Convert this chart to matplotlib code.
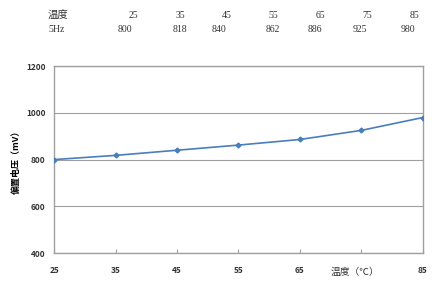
import matplotlib
matplotlib.use("Agg")
import matplotlib.pyplot as plt

plt.rcParams['font.family'] = ['Noto Sans CJK SC', 'DejaVu Sans']

# data
temps = [25, 35, 45, 55, 65, 75, 85]
bias_mv = [800, 818, 840, 862, 886, 925, 980]
table_row_label_1 = "温度"
table_row_label_2 = "5Hz"
y_ticks = [400, 600, 800, 1000, 1200]
x_tick_labels = ["25", "35", "45", "55", "65", "", "85"]

fig = plt.figure(figsize=(4.36, 2.86), dpi=100)
ax = fig.add_axes([0.124, 0.115, 0.846, 0.654])

ax.plot(temps, bias_mv, color="#4a7ebb", lw=1.2, marker="D", ms=2.5, zorder=3)

ax.set_xlim(25, 85)
ax.set_ylim(400, 1200)
ax.set_yticks(y_ticks)
ax.set_xticks(temps)
ax.set_xticklabels(x_tick_labels)
ax.grid(axis="y", color="#a0a0a0", lw=0.8)
for s in ax.spines.values():
    s.set_color("#a0a0a0")
    s.set_linewidth(1.0)
ax.tick_params(axis="y", length=0, labelsize=6, pad=6, colors="#333333")
ax.tick_params(axis="x", length=3, direction="in", color="#a0a0a0", labelsize=6, pad=9, colors="#333333")
for lab in ax.get_xticklabels() + ax.get_yticklabels():
    lab.set_fontweight("bold")

ax.set_ylabel("偏置电压（mV）", fontsize=6.5, fontweight="bold", labelpad=4)
fig.text(0.814, 0.049, "温度（℃）", fontsize=7, ha="center", va="center", color="#333333")

# small data table at the top
serif = ["Liberation Serif", "Noto Sans CJK SC"]
fig.text(0.110, 0.946, table_row_label_1, fontsize=7.5, family=["Noto Sans CJK SC"], va="center", color="#333333")
fig.text(0.110, 0.897, table_row_label_2, fontsize=7, family=serif, va="center", color="#333333")
t_x = [0.317, 0.425, 0.532, 0.639, 0.747, 0.854, 0.962]
v_x = [0.287, 0.412, 0.503, 0.625, 0.722, 0.826, 0.935]
for xx, t in zip(t_x, temps):
    fig.text(xx, 0.946, str(t), fontsize=7, family=serif, ha="right", va="center", color="#333333")
for xx, v in zip(v_x, bias_mv):
    fig.text(xx, 0.897, str(v), fontsize=7, family=serif, ha="center", va="center", color="#333333")

fig.savefig("out.png", dpi=100)
